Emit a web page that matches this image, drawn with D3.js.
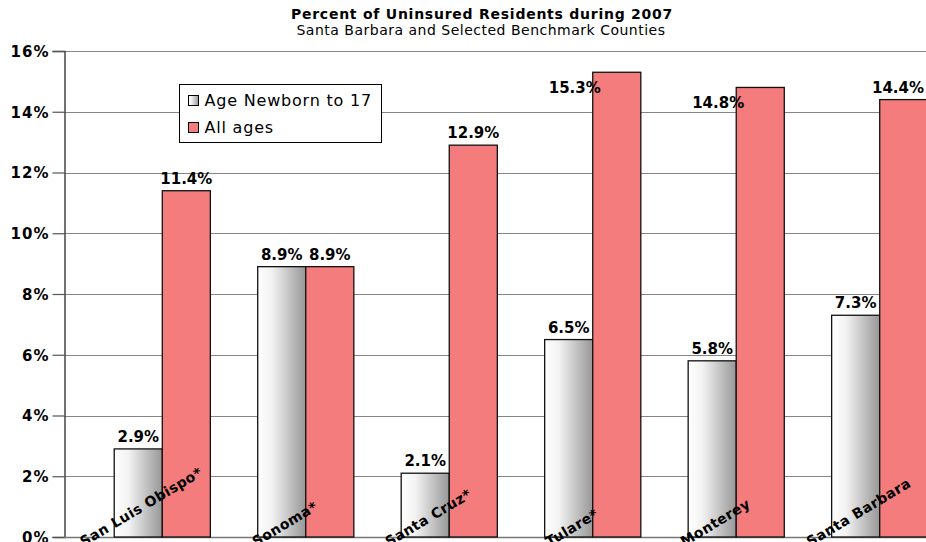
<!DOCTYPE html>
<html><head><meta charset="utf-8">
<script src="https://cdn.jsdelivr.net/npm/d3@7"></script>
<style>html,body{margin:0;padding:0;background:#fff;overflow:hidden}</style>
</head><body>
<svg id="c" width="926" height="542"></svg>
<script>
const categories = ["San Luis Obispo*", "Sonoma*", "Santa Cruz*", "Tulare*", "Monterey", "Santa Barbara"];
const seriesNames = ["Age Newborn to 17", "All ages"];
const youthValues = [2.9, 8.9, 2.1, 6.5, 5.8, 7.3];
const allAgesValues = [11.4, 8.9, 12.9, 15.3, 14.8, 14.4];
const yTicks = [0, 2, 4, 6, 8, 10, 12, 14, 16];
const titleText = "Percent of Uninsured Residents during 2007";
const subtitleText = "Santa Barbara and Selected Benchmark Counties";

const FONT = "'DejaVu Sans', Verdana, sans-serif";
const svg = d3.select("#c");
const plot = {left: 64, top: 51, bottom: 537, right: 926};

const defs = svg.append("defs");
const grad = defs.append("linearGradient").attr("id", "gg").attr("x1", "0%").attr("x2", "100%").attr("y1", "0%").attr("y2", "0%");
grad.append("stop").attr("offset", "0%").attr("stop-color", "#ffffff");
grad.append("stop").attr("offset", "30%").attr("stop-color", "#f2f2f2");
grad.append("stop").attr("offset", "100%").attr("stop-color", "#979797");
const colors = ["url(#gg)", "#f47c7c"];

const y = d3.scaleLinear().domain([0, 16]).range([plot.bottom, plot.top]);
const x0 = d3.scaleBand().domain(categories).range([plot.left, 978]).paddingInner(0.33).paddingOuter(0.35);
const x1 = d3.scaleBand().domain(seriesNames).range([0, x0.bandwidth()]).padding(0);

// title
svg.append("text").attr("x", 482).attr("y", 19).attr("text-anchor", "middle")
  .attr("font-family", FONT).attr("font-weight", "bold").attr("font-size", 14).attr("letter-spacing", 0.75).text(titleText);
svg.append("text").attr("x", 481).attr("y", 35).attr("text-anchor", "middle")
  .attr("font-family", FONT).attr("font-size", 14).attr("letter-spacing", 0.5).text(subtitleText);

// gridlines
svg.append("g").selectAll("line").data(yTicks.filter(d => d > 0)).join("line")
  .attr("x1", plot.left).attr("x2", plot.right).attr("y1", d => Math.round(y(d)) + 0.5).attr("y2", d => Math.round(y(d)) + 0.5)
  .attr("stroke", "#858585").attr("stroke-width", 1.2);

// y axis
const yAxis = d3.axisLeft(y).tickValues(yTicks).tickFormat(d => d + "%").tickSize(12).tickPadding(3);
const ga = svg.append("g").attr("transform", `translate(${plot.left + 0.5},0)`).call(yAxis);
ga.select(".domain").attr("stroke", "#444").attr("stroke-width", 1.5);
ga.selectAll(".tick line").attr("stroke", "#555").attr("stroke-width", 1.2);
ga.selectAll(".tick text").attr("font-family", FONT).attr("font-weight", "bold").attr("font-size", 15)
  .attr("letter-spacing", 1).attr("fill", "#000").attr("dy", "0.36em");

// bottom axis line
svg.append("line").attr("x1", plot.left).attr("x2", plot.right).attr("y1", plot.bottom + 0.5).attr("y2", plot.bottom + 0.5)
  .attr("stroke", "#777").attr("stroke-width", 1.5);

const data = categories.map((c, i) => ({cat: c, vals: [youthValues[i], allAgesValues[i]]}));

// bars
const groups = svg.append("g").selectAll("g").data(data).join("g")
  .attr("transform", d => `translate(${x0(d.cat)},0)`);
groups.selectAll("rect").data(d => d.vals.map((v, j) => ({s: seriesNames[j], v, j}))).join("rect")
  .attr("x", d => x1(d.s)).attr("width", x1.bandwidth())
  .attr("y", d => y(d.v)).attr("height", d => y(0) - y(d.v))
  .attr("fill", d => colors[d.j]).attr("stroke", "#111").attr("stroke-width", 1.3);

// category labels (rotated)
const cl = svg.append("g").selectAll("text").data(categories).join("text")
  .attr("font-family", FONT).attr("font-weight", "bold").attr("font-size", 14).attr("letter-spacing", 0.4).attr("fill", "#000")
  .text(d => d);
cl.each(function(d) {
  const L = this.getComputedTextLength();
  const cx = x0(d) + x0.bandwidth() / 2 - 18;
  const sx = cx - L * Math.cos(Math.PI / 6) / 2;
  const sy = 547;
  d3.select(this).attr("transform", `translate(${sx},${sy}) rotate(-31)`);
});

// value labels
groups.selectAll("text.val").data(d => d.vals.map((v, j) => ({s: seriesNames[j], v, j}))).join("text")
  .attr("class", "val")
  .attr("font-family", FONT).attr("font-weight", "bold").attr("font-size", 15).attr("fill", "#000")
  .each(function(d, i, nodes) {
    const top = y(d.v);
    const sel = d3.select(this).text(d.v.toFixed(1) + "%");
    const gx = x0(d3.select(this.parentNode).datum().cat);
    if (top - plot.top < 42) {
      sel.attr("text-anchor", "end").attr("x", x1(d.s) + 8).attr("y", top + 21);
    } else {
      const L = this.getComputedTextLength();
      let cx = x1(d.s) + x1.bandwidth() / 2;
      if (gx + cx + L / 2 > plot.right - 2) cx = plot.right - 2 - gx - L / 2;
      sel.attr("text-anchor", "middle").attr("x", cx).attr("y", top - 7);
    }
  });

// legend
const lg = svg.append("g").attr("transform", "translate(179.5,84.5)");
lg.append("rect").attr("width", 202).attr("height", 58).attr("fill", "#fff").attr("stroke", "#000").attr("stroke-width", 1);
const li = lg.selectAll("g").data(seriesNames).join("g").attr("transform", (d, i) => `translate(9,${11 + i * 27})`);
li.append("rect").attr("width", 10).attr("height", 10).attr("fill", (d, i) => colors[i]).attr("stroke", "#000").attr("stroke-width", 1);
li.append("text").attr("x", 16).attr("y", 10).attr("font-family", FONT).attr("font-size", 16).attr("letter-spacing", 0.8)
  .attr("fill", "#000").text(d => d);
</script>
</body></html>
